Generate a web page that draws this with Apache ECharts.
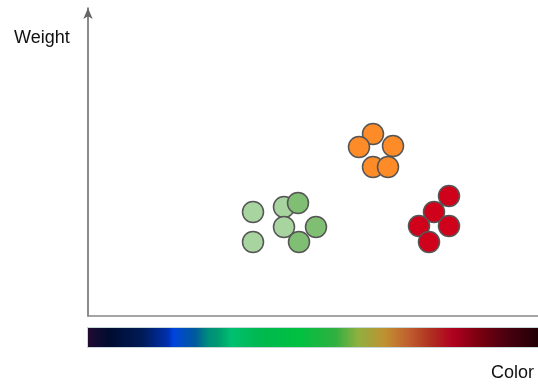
<!DOCTYPE html>
<html>
<head>
<meta charset="utf-8">
<script src="https://cdn.jsdelivr.net/npm/echarts@6/dist/echarts.min.js"></script>
<style>html,body{margin:0;padding:0;background:#fff;}#c{width:538px;height:384px;}</style>
</head>
<body>
<div id="c"></div>
<script>
// Data (arbitrary units: color along x, weight along y)
const lightGreen = [[165,104],[165,74],[196,109],[196,89]];
const darkGreen  = [[210,113],[228,89],[211,74]];
const orange     = [[285,182],[271,169],[305,170],[285,149],[300,149]];
const red        = [[361,120],[346,104],[331,90],[361,90],[341,74]];
const axisLabels = ['Color','Weight'];
// spectrum bar stops
const spectrumOffsets = [0,0.05,0.12,0.18,0.19,0.24,0.27,0.29,0.32,0.38,0.47,0.55,0.6,0.66,0.71,0.76,0.81,0.86,0.92,1];
const spectrumColors = ['#220a32','#000c30','#001a55','#0030b0','#0042e0','#005a9a','#00907a','#009a70','#00c070','#00b850','#00c040','#30b040','#90b040','#c09030','#c06030','#b03020','#b00020','#800010','#500010','#200005'];

const chart = echarts.init(document.getElementById('c'));
function sc(name, data, color){
  return {name, type:'scatter', data, symbolSize:21,
    itemStyle:{color, borderColor:'#555', borderWidth:1.5, opacity:1},
    emphasis:{disabled:true}};
}
const labelFont = '18px "Liberation Sans", Arial, sans-serif';
chart.setOption({
  animation:false,
  backgroundColor:'#fff',
  grid:{left:88, right:0, top:8, bottom:68},
  xAxis:{type:'value', min:0, max:450, splitLine:{show:false}, axisTick:{show:false}, axisLabel:{show:false},
    axisLine:{show:true, onZero:false, lineStyle:{color:'#888', width:1.5}}},
  yAxis:{type:'value', min:0, max:308, splitLine:{show:false}, axisTick:{show:false}, axisLabel:{show:false},
    axisLine:{show:true, onZero:false, symbol:['none','arrow'], symbolSize:[7,11], lineStyle:{color:'#666', width:1.5}}},
  series:[sc('light', lightGreen, '#a8d4a0'), sc('dark', darkGreen, '#7fbe73'), sc('orange', orange, '#fd8b28'), sc('red', red, '#d0021b')],
  graphic:[
    {type:'rect', shape:{x:87.5, y:327.5, width:451, height:20},
      style:{fill:new echarts.graphic.LinearGradient(0,0,1,0, spectrumOffsets.map((o,i)=>({offset:o, color:spectrumColors[i]}))),
        stroke:'#c8d8d8', lineWidth:1}},
    {type:'text', left:14, top:29, style:{text:axisLabels[1], font:labelFont, letterSpacing:0.8, fill:'#111'}},
    {type:'text', left:491, top:364, style:{text:axisLabels[0], font:labelFont, letterSpacing:1, fill:'#111'}}
  ]
});
</script>
</body>
</html>
